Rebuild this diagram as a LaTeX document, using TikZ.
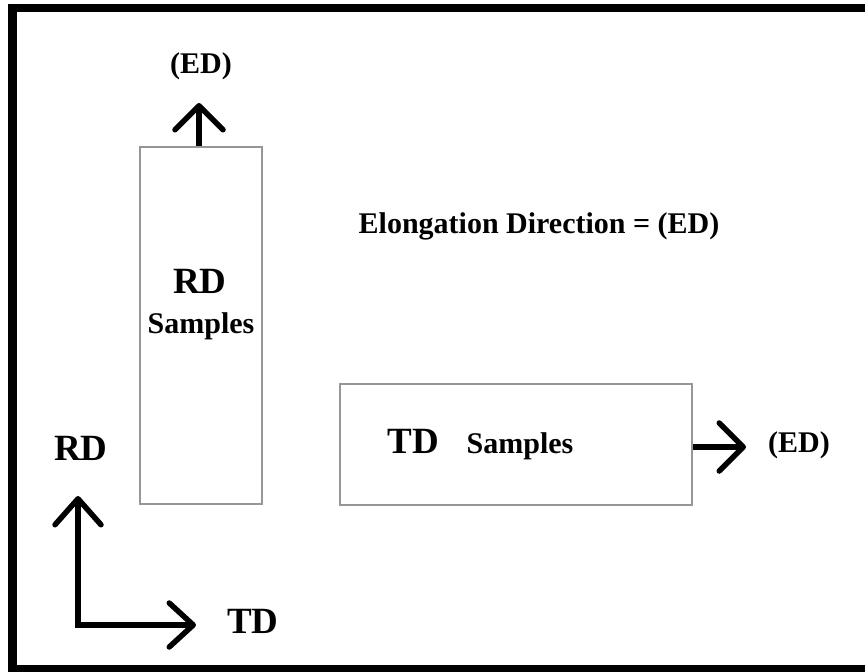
\documentclass[tikz,border=0pt]{standalone}
\usepackage{fontspec}
\setmainfont{Liberation Serif}
\usetikzlibrary{arrows.meta}
\definecolor{boxgray}{RGB}{150,150,150}
\tikzset{
  samplebox/.style={draw=boxgray, line width=2pt, fill=none, inner sep=0pt},
  bigarrow/.style={line width=5.5pt, -{Straight Barb[length=24pt 0, width=48pt 0, line cap=round, line join=round]}},
  bigtext/.style={font=\bfseries\fontsize{37}{37}\selectfont, anchor=base, inner sep=0pt},
  midtext/.style={font=\bfseries\fontsize{30}{30}\selectfont, anchor=base, inner sep=0pt},
}
\begin{document}
\begin{tikzpicture}[x=1pt, y=-1pt]
\useasboundingbox (0,0) rectangle (865,672);
\clip (0,0) rectangle (865,672);
% outer frame
\draw[line width=8.5pt] (12.5,8) rectangle (885,669);
% boxes
\node[samplebox, minimum width=122pt, minimum height=357pt] (rd) at (201,325.5) {};
\node[samplebox, minimum width=352pt, minimum height=121pt] (td) at (516,444.5) {};
% texts
\node[midtext] (edtop) at (201,73) {(ED)};
\node[midtext] (legend) at (539,233) {Elongation Direction = (ED)};
\node[bigtext] (rdlabel) at (200,293) {RD};
\node[midtext] (rdsamples) at (201,333) {Samples};
\node[bigtext] (tdlabel) at (413.5,453) {TD};
\node[midtext] (tdsamples) at (520,453) {Samples};
\node[midtext] (edright) at (799,452) {(ED)};
\node[bigtext] (axrd) at (81,460) {RD};
\node[bigtext] (axtd) at (253,633) {TD};
% arrows
\coordinate (tipTop) at (199,103);
\coordinate (tipRight) at (746,447);
\coordinate (origin) at (78,625);
\coordinate (axUp) at (78,496);
\coordinate (axRight) at (196,625);
\draw[bigarrow] (rd.north -| tipTop) -- (tipTop);
\draw[bigarrow] (td.east |- tipRight) -- (tipRight);
\draw[line width=5.5pt, {Straight Barb[length=26pt 0, width=46pt 0, line cap=round, line join=round]}-{Straight Barb[length=24pt 0, width=44pt 0, line cap=round, line join=round]}, line join=miter] (axUp) -- (origin) -- (axRight);
\end{tikzpicture}
\end{document}
